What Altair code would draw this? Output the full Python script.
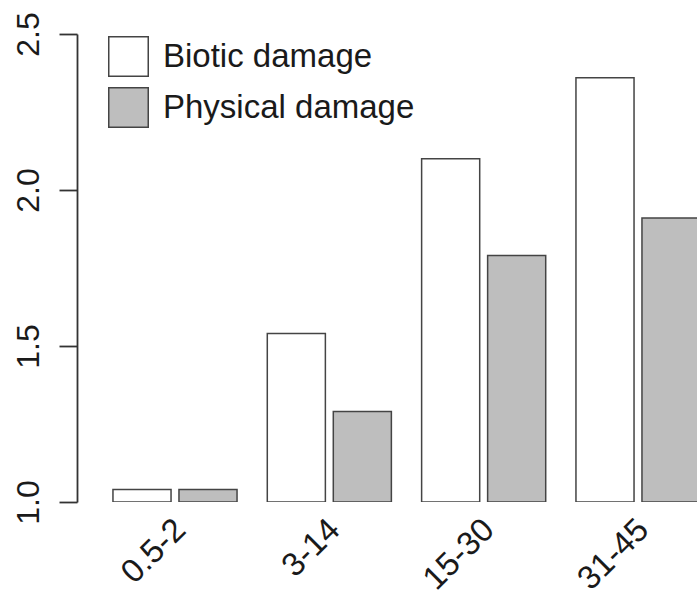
import altair as alt
import pandas as pd

# Damage index by age class (years), two damage types
age_classes = ["0.5-2", "3-14", "15-30", "31-45"]
biotic = [1.04, 1.54, 2.10, 2.36]
physical = [1.04, 1.29, 1.79, 1.91]
series_names = ["Biotic damage", "Physical damage"]
y_ticks = [1.0, 1.5, 2.0, 2.5]

rows = []
for cls, b, p in zip(age_classes, biotic, physical):
    rows.append({"age": cls, "series": series_names[0], "value": b})
    rows.append({"age": cls, "series": series_names[1], "value": p})
df = pd.DataFrame(rows)

FONT = "Liberation Sans"
INK = "#1a1a1a"
EDGE = "#444444"

bars = alt.Chart(df).mark_bar(
    clip=True, stroke=EDGE, strokeWidth=1.5
).encode(
    x=alt.X(
        "age:N",
        sort=age_classes,
        scale=alt.Scale(range=[0, 659], paddingInner=0.196, paddingOuter=0.233),
        axis=alt.Axis(
            title=None, domain=False, ticks=False, tickSize=0,
            labelAngle=-45, labelAlign="right", labelBaseline="top",
            labelPadding=11, labelOffset=-6,
            labelFont=FONT, labelFontSize=33, labelColor=INK,
        ),
    ),
    xOffset=alt.XOffset(
        "series:N", sort=series_names,
        scale=alt.Scale(paddingInner=0.12, paddingOuter=0),
    ),
    y=alt.Y(
        "value:Q",
        scale=alt.Scale(domain=[1.0, 2.5], zero=False, nice=False),
        axis=alt.Axis(
            title=None, grid=False, values=y_ticks, format=".1f",
            tickSize=18, tickWidth=1.8, tickColor="#333333",
            domainColor="#333333", domainWidth=1.8,
            labelAngle=-90, labelAlign="center", labelBaseline="alphabetic",
            labelPadding=21, labelFont=FONT, labelFontSize=32, labelColor=INK,
        ),
    ),
    y2=alt.datum(1.0),
    fill=alt.Fill(
        "series:N",
        sort=series_names,
        scale=alt.Scale(domain=series_names, range=["#ffffff", "#bebebe"]),
        legend=alt.Legend(
            title=None, orient="none", legendX=31, legendY=2,
            symbolType="square", symbolSize=1560,
            symbolStrokeColor=EDGE, symbolStrokeWidth=1.5,
            labelFont=FONT, labelFontSize=33, labelColor=INK, labelLimit=0,
            labelOffset=14, rowPadding=4, padding=0,
        ),
    ),
)

chart = bars.properties(
    width=620,
    height=468,
    autosize=alt.AutoSizeParams(type="none"),
    padding={"left": 77, "top": 34, "right": 0, "bottom": 105},
    background="white",
).configure_view(stroke=None)

chart.save("out.html", embed_options={"renderer": "svg", "actions": False})
